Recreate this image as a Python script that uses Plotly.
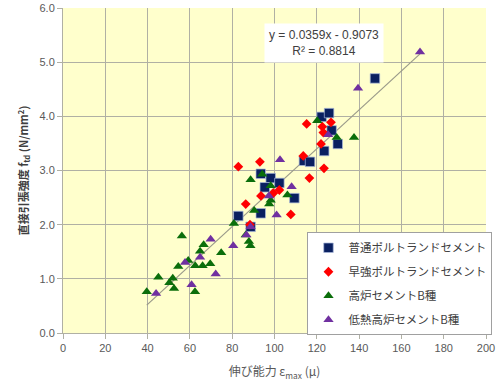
import plotly.graph_objects as go

# 伸び能力 (μ) と 直接引張強度 (N/mm²) の測定値
opc_x = [147.5, 122.3, 125.8, 127.0, 129.9, 123.5, 113.9, 116.8, 93.5, 98.2, 102.3, 95.4, 109.4, 82.9, 93.5, 88.7]
opc_y = [4.70, 3.99, 4.06, 3.74, 3.49, 3.36, 3.18, 3.16, 2.94, 2.86, 2.77, 2.69, 2.49, 2.16, 2.21, 1.96]

hes_x = [115.2, 126.7, 122.6, 123.1, 122.0, 113.6, 93.1, 82.9, 123.4, 116.5, 102.3, 99.4, 93.6, 86.4, 107.7, 88.4]
hes_y = [3.86, 3.89, 3.81, 3.70, 3.49, 3.27, 3.16, 3.07, 3.04, 2.86, 2.64, 2.58, 2.53, 2.38, 2.19, 2.00]

bb_x = [120.2, 129.4, 137.6, 88.7, 94.2, 98.2, 106.1, 98.2, 97.5, 90.4, 80.8, 86.4, 87.9, 88.6,
        56.2, 66.5, 64.8, 74.8, 59.2, 54.5, 62.5, 66.0, 69.6, 45.1, 51.9, 50.3, 52.5, 62.4, 39.6]
bb_y = [3.92, 3.61, 3.61, 2.83, 2.93, 2.72, 2.55, 2.45, 2.38, 2.26, 2.02, 1.81, 1.69, 1.61,
        1.79, 1.63, 1.51, 1.48, 1.34, 1.23, 1.24, 1.24, 1.28, 1.03, 1.01, 0.93, 0.82, 0.76, 0.76]

lhbb_x = [168.8, 139.5, 125.4, 102.6, 108.1, 97.4, 101.0, 88.7, 86.7, 80.5, 69.8, 64.8, 57.7, 72.2, 60.8, 44.0]
lhbb_y = [5.19, 4.52, 3.66, 3.20, 2.70, 2.53, 2.18, 1.96, 1.81, 1.61, 1.73, 1.40, 1.30, 1.09, 0.89, 0.73]

# 近似直線 y = a x + b
slope = 0.0359
intercept = -0.9073
r_squared = 0.8814

all_x = opc_x + hes_x + bb_x + lhbb_x
x_lo, x_hi = min(all_x), max(all_x)

jp_font = "Noto Sans CJK JP"
grid_c = "#b0b0a4"

fig = go.Figure()

fig.add_trace(go.Scatter(
    x=[x_lo, x_hi], y=[slope * x_lo + intercept, slope * x_hi + intercept],
    mode="lines", line=dict(color="#9a9a8a", width=1.2),
    showlegend=False, hoverinfo="skip"))

fig.add_trace(go.Scatter(
    x=opc_x, y=opc_y, mode="markers", name="普通ポルトランドセメント", legendgroup="a",
    marker=dict(symbol="square", size=9.5, color="#0a2060",
                line=dict(color="rgba(170,185,220,0.9)", width=0.8))))
fig.add_trace(go.Scatter(
    x=hes_x, y=hes_y, mode="markers", name="早強ポルトランドセメント", legendgroup="b",
    marker=dict(symbol="diamond", size=7.5, color="#ff0000")))
fig.add_trace(go.Scatter(
    x=bb_x, y=bb_y, mode="markers", name="高炉セメントB種", legendgroup="c",
    marker=dict(symbol="triangle-up", size=9, color="#0b6e0b")))
fig.add_trace(go.Scatter(
    x=lhbb_x, y=lhbb_y, mode="markers", name="低熱高炉セメントB種", legendgroup="d",
    marker=dict(symbol="triangle-up", size=9, color="#7030a0")))

fig.add_annotation(
    x=123.5, y=5.35, xref="x", yref="y", showarrow=False,
    text=f"y = {slope}x - {abs(intercept)}<br>R² = {r_squared}",
    align="center", bgcolor="white", borderpad=4,
    font=dict(family="Liberation Sans", size=12, color="#404040"))

fig.update_layout(
    width=500, height=385,
    margin=dict(l=63, r=14, t=8, b=52, autoexpand=False),
    paper_bgcolor="white", plot_bgcolor="#ffffcc",
    font=dict(family="Liberation Sans", size=11, color="#595959"),
    legend=dict(
        x=0.578, y=0.31, xanchor="left", yanchor="top",
        bgcolor="white", bordercolor="#a0a0a0", borderwidth=1,
        font=dict(family=jp_font, size=11.5, color="#404040"),
        traceorder="grouped", tracegroupgap=5, itemwidth=30),
    xaxis=dict(
        range=[0, 200], dtick=20, tick0=0,
        showgrid=True, gridcolor=grid_c, gridwidth=1,
        showline=True, linecolor=grid_c, linewidth=1, mirror=False,
        ticks="outside", ticklen=5, tickcolor=grid_c, zeroline=False,
        tickfont=dict(size=11, color="#595959"),
        title=dict(text="伸び能力 ε<sub>max</sub> (μ)", standoff=14,
                   font=dict(family=jp_font, size=12, color="#595959"))),
    yaxis=dict(
        range=[0, 6], dtick=1, tick0=0, tickformat=".1f",
        showgrid=True, gridcolor=grid_c, gridwidth=1,
        showline=True, linecolor=grid_c, linewidth=1, mirror=False,
        ticks="outside", ticklen=5, tickcolor=grid_c, zeroline=False,
        tickfont=dict(size=11, color="#595959"),
        title=dict(text="<b>直接引張強度 f<sub>td</sub> (N/mm<sup>2</sup>)</b>", standoff=8,
                   font=dict(family=jp_font, size=11, color="#404040"))),
)

fig.write_html("out.html")
